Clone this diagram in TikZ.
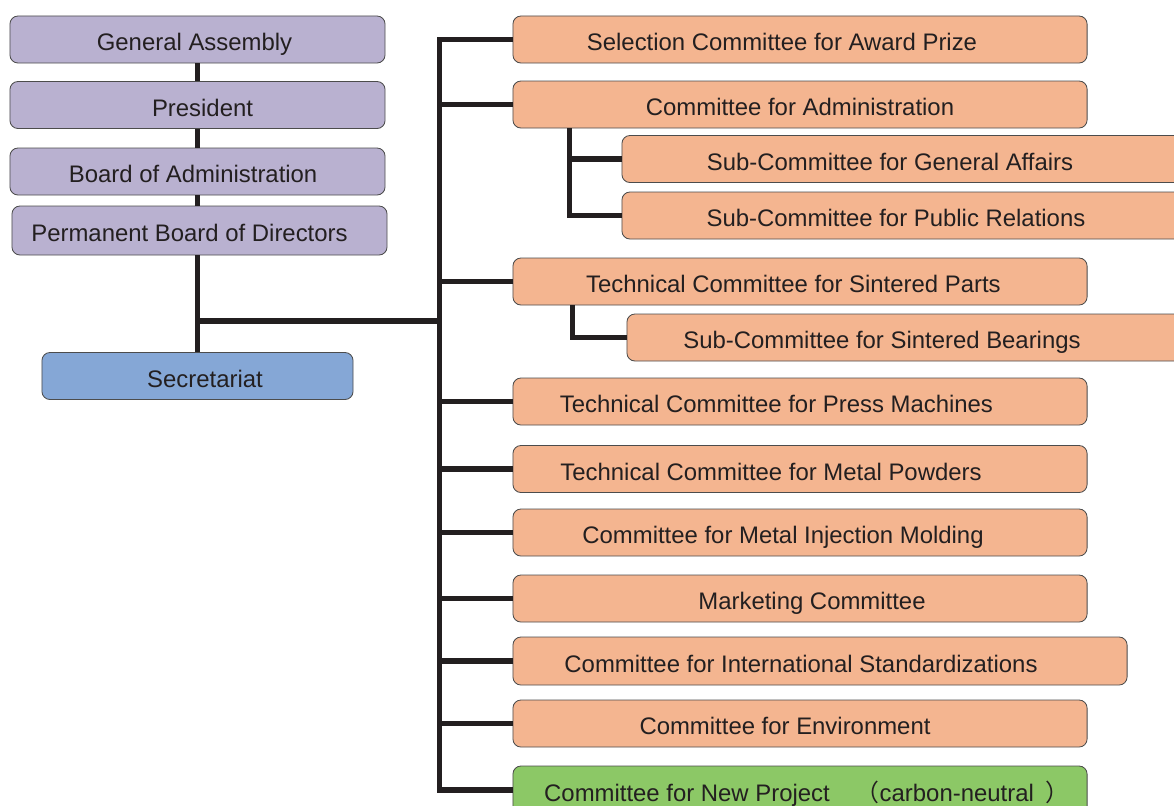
\documentclass[tikz,border=0pt]{standalone}
\usepackage{fontspec}
\setmainfont{Liberation Sans}
\newfontfamily\cjk{Noto Sans CJK JP}
\usepackage{tikz}

\definecolor{boardpurple}{RGB}{185,177,208}
\definecolor{secblue}{RGB}{133,167,214}
\definecolor{commorange}{RGB}{244,181,144}
\definecolor{projgreen}{RGB}{140,200,102}
\definecolor{inkgray}{RGB}{35,31,32}

\tikzset{
  unit/.style={draw=black!70, line width=0.6pt, rounded corners=0.2cm,
    text=inkgray, font=\fontsize{17}{20}\selectfont,
    text height=0.55cm, text depth=0cm,
    minimum height=1.175cm, inner sep=0pt},
  board/.style={unit, fill=boardpurple, minimum width=9.375cm},
  comm/.style={unit, fill=commorange, minimum width=14.35cm},
  subcomm/.style={unit, fill=commorange, minimum width=14.2cm},
  lshift/.style={execute at end node={\hspace*{#1}}},
  rshift/.style={execute at begin node={\hspace*{#1}}},
  link/.style={line width=4pt, draw=inkgray}
}

\begin{document}
\begin{tikzpicture}[x=0.025cm, y=-0.025cm]
  \useasboundingbox (0,0) rectangle (1174,805);
  \clip (0,0) rectangle (1174,805);

  % board side
  \node[board, lshift=0.15cm] (ga)   at (197.5,39.5) {General Assembly};
  \node[board, rshift=0.25cm] (pres) at (197.5,105)  {President};
  \node[board, lshift=0.22cm] (boa)  at (197.5,171.5) {Board of Administration};
  \node[board, lshift=0.5cm, minimum height=1.225cm] (pbd) at (199.5,230.5) {Permanent Board of Directors};
  \node[unit, rshift=0.375cm, fill=secblue, minimum width=7.775cm] (sec) at (197.5,376) {Secretariat};

  % committees
  \node[comm, lshift=0.9cm] (sel) at (800,39.5)  {Selection Committee for Award Prize};
  \node[comm] (adm) at (800,104.5) {Committee for Administration};
  \node[subcomm, lshift=0.8cm] (sga) at (906,159)   {Sub-Committee for General Affairs};
  \node[subcomm, lshift=0.5cm] (spr) at (906,215.5) {Sub-Committee for Public Relations};
  \node[comm, lshift=0.33cm] (tsp) at (800,281.5) {Technical Committee for Sintered Parts};
  \node[subcomm, lshift=1.45cm] (ssb) at (911,337.5) {Sub-Committee for Sintered Bearings};
  \node[comm, lshift=1.18cm] (tpm) at (800,401.5) {Technical Committee for Press Machines};
  \node[comm, lshift=1.45cm] (tmp) at (800,469)   {Technical Committee for Metal Powders};
  \node[comm, lshift=0.85cm] (mim) at (800,532.5) {Committee for Metal Injection Molding};
  \node[comm, rshift=0.6cm] (mkt) at (800,598.5) {Marketing Committee};
  \node[comm, lshift=0.95cm, minimum width=15.35cm, minimum height=1.2cm] (iso) at (820,661) {Committee for International Standardizations};
  \node[comm, lshift=0.75cm] (env) at (800,723.5) {Committee for Environment};
  \node[comm, rshift=0.35cm, fill=projgreen, minimum height=1.2cm] (new) at (800,790)
    {Committee for New Project\hspace{0.65cm}{\cjk （}carbon-neutral\hspace{0.3cm}{\cjk ）}};

  % connectors
  \draw[link] (ga.south) -- (pres.north);
  \draw[link] (pres.south) -- (boa.north);
  \draw[link] (boa.south) -- (boa.south |- pbd.north);
  \draw[link] (pbd.south -| sec.north) -- (sec.north);
  \draw[link] (sel.west) -- ++(-73,0) coordinate (bt) |- (new.west);
  \draw[link] (sec.north |- 0,321) -- (bt |- 0,321);
  \foreach \c in {adm,tsp,tpm,tmp,mim,mkt,iso,env}
    \draw[link] (\c.west) -- (\c.west -| bt);
  \coordinate (ab) at ([xshift=1.425cm]adm.south west);
  \draw[link] (ab) |- (spr.west);
  \draw[link] (ab |- sga.west) -- (sga.west);
  \draw[link] ([xshift=1.5cm]tsp.south west) |- (ssb.west);
\end{tikzpicture}
\end{document}
